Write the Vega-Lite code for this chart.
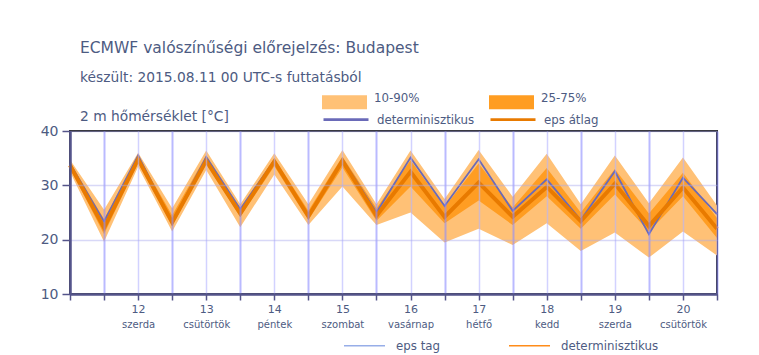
{
  "$schema": "https://vega.github.io/schema/vega-lite/v6.json",
  "width": 647,
  "height": 163,
  "autosize": "none",
  "padding": {"left": 70, "top": 131, "right": 42, "bottom": 61},
  "background": "white",
  "config": {
    "font": "DejaVu Sans",
    "view": {"stroke": "#2b2b2b", "strokeWidth": 2}
  },
  "title": {
    "text": "ECMWF valószínűségi előrejelzés: Budapest",
    "subtitle": ["készült: 2015.08.11 00 UTC-s futtatásból", "2 m hőmérséklet [°C]"],
    "anchor": "start",
    "frame": "group",
    "dx": 10,
    "fontSize": 15.5,
    "fontWeight": "normal",
    "color": "#4d5b82",
    "subtitleColor": "#4d5b82",
    "subtitleFontSize": 13.8,
    "subtitlePadding": 14,
    "subtitleLineHeight": 39,
    "offset": -44
  },
  "data": {
    "values": [
      {"t": 11.5, "p10": 32.5, "p25": 33.2, "mean": 33.7, "p75": 34.2, "p90": 34.7, "det": 34.0},
      {"t": 12.0, "p10": 19.6, "p25": 21.0, "mean": 22.2, "p75": 23.8, "p90": 25.5, "det": 23.3},
      {"t": 12.5, "p10": 33.4, "p25": 34.2, "mean": 34.8, "p75": 35.4, "p90": 36.0, "det": 35.5},
      {"t": 13.0, "p10": 21.5, "p25": 22.5, "mean": 23.2, "p75": 24.5, "p90": 25.8, "det": 23.2},
      {"t": 13.5, "p10": 32.8, "p25": 34.0, "mean": 34.5, "p75": 35.5, "p90": 36.4, "det": 35.2},
      {"t": 14.0, "p10": 22.3, "p25": 24.2, "mean": 24.8, "p75": 25.8, "p90": 26.5, "det": 25.6},
      {"t": 14.5, "p10": 32.0, "p25": 33.5, "mean": 34.4, "p75": 35.0, "p90": 35.9, "det": 34.6},
      {"t": 15.0, "p10": 22.7, "p25": 23.6, "mean": 24.3, "p75": 25.3, "p90": 26.5, "det": 24.2},
      {"t": 15.5, "p10": 29.8, "p25": 33.3, "mean": 34.5, "p75": 35.3, "p90": 36.5, "det": 34.8},
      {"t": 16.0, "p10": 22.7, "p25": 23.5, "mean": 24.4, "p75": 25.8, "p90": 26.5, "det": 25.0},
      {"t": 16.5, "p10": 25.0, "p25": 29.8, "mean": 32.5, "p75": 34.6, "p90": 36.4, "det": 35.1},
      {"t": 17.0, "p10": 19.5, "p25": 23.0, "mean": 24.2, "p75": 26.0, "p90": 27.5, "det": 26.2},
      {"t": 17.5, "p10": 22.0, "p25": 27.2, "mean": 30.5, "p75": 34.0, "p90": 36.5, "det": 34.8},
      {"t": 18.0, "p10": 19.0, "p25": 22.7, "mean": 24.2, "p75": 25.9, "p90": 27.9, "det": 25.3},
      {"t": 18.5, "p10": 23.0, "p25": 28.0, "mean": 29.7, "p75": 33.2, "p90": 35.8, "det": 31.1},
      {"t": 19.0, "p10": 17.9, "p25": 22.0, "mean": 23.4, "p75": 25.0, "p90": 26.5, "det": 23.6},
      {"t": 19.5, "p10": 21.3, "p25": 28.3, "mean": 30.3, "p75": 33.0, "p90": 35.5, "det": 32.6},
      {"t": 20.0, "p10": 16.7, "p25": 21.5, "mean": 22.5, "p75": 24.8, "p90": 26.7, "det": 21.0},
      {"t": 20.5, "p10": 21.5, "p25": 28.0, "mean": 29.6, "p75": 32.3, "p90": 35.1, "det": 31.4},
      {"t": 21.0, "p10": 17.1, "p25": 20.3, "mean": 22.0, "p75": 24.0, "p90": 26.3, "det": 24.7}
    ]
  },
  "layer": [
    {
      "mark": {"type": "area", "opacity": 1},
      "encoding": {
        "x": {
          "field": "t", "type": "quantitative",
          "scale": {"domain": [11.5, 21], "nice": false, "zero": false},
          "axis": {
            "orient": "bottom",
            "values": [11.5, 12, 12.5, 13, 13.5, 14, 14.5, 15, 15.5, 16, 16.5, 17, 17.5, 18, 18.5, 19, 19.5, 20, 20.5, 21],
            "labelExpr": "(datum.value % 1 == 0.5 && datum.value > 12) ? format(floor(datum.value), 'd') : ''",
            "labelFontSize": 11, "labelColor": "#4d5b82", "labelPadding": 3, "labelDx": -3.5,
            "labelOverlap": false, "labelFlush": false, "labelBound": false,
            "tickSize": 6, "tickColor": "#54548a", "tickWidth": 1.5,
            "domainColor": "#54548a", "domainWidth": 2.5,
            "grid": true,
            "gridColor": {"condition": {"test": "datum.value % 1 == 0", "value": "#8c8cff"}, "value": "#b4b4ff"},
            "gridWidth": {"condition": {"test": "datum.value % 1 == 0", "value": 2}, "value": 1.5},
            "gridOpacity": 0.6,
            "title": null, "zindex": 1
          }
        },
        "y": {
          "field": "p10", "type": "quantitative",
          "scale": {"domain": [10, 40], "nice": false, "zero": false},
          "axis": {
            "values": [10, 15, 20, 25, 30, 35, 40],
            "labelFontSize": 14, "labelColor": "#4d5b82", "labelPadding": 4,
            "tickSize": 8, "tickColor": "#54548a", "tickWidth": 1.5,
            "domainColor": "#54548a", "domainWidth": 2.5,
            "grid": true, "gridColor": "#a8a8ee", "gridOpacity": 0.45, "gridWidth": 1.5,
            "title": null, "zindex": 1
          }
        },
        "y2": {"field": "p90"},
        "fill": {
          "datum": "10-90%", "type": "nominal",
          "scale": {"domain": ["10-90%", "25-75%"], "range": ["#ffc176", "#ff9d22"]},
          "legend": {
            "orient": "none", "legendX": 252, "legendY": -51.5, "direction": "horizontal",
            "symbolType": "M-1,-0.31H1V0.31H-1Z", "symbolSize": 2025, "symbolStrokeWidth": 0,
            "labelFontSize": 11.8, "labelColor": "#4d5b82", "labelOffset": 7,
            "labelBaseline": "alphabetic", "columnPadding": 69, "title": null, "padding": 0
          }
        }
      }
    },
    {
      "mark": {"type": "area", "opacity": 1},
      "encoding": {
        "x": {"field": "t", "type": "quantitative", "axis": null},
        "y": {"field": "p25", "type": "quantitative", "title": null},
        "y2": {"field": "p75"},
        "fill": {"datum": "25-75%", "type": "nominal"}
      }
    },
    {
      "mark": {"type": "line", "strokeWidth": 1.8},
      "encoding": {
        "x": {
          "field": "t", "type": "quantitative",
          "axis": {
            "orient": "bottom",
            "values": [12.5, 13.5, 14.5, 15.5, 16.5, 17.5, 18.5, 19.5, 20.5],
            "labelExpr": "['szerda','csütörtök','péntek','szombat','vasárnap','hétfő','kedd','szerda','csütörtök'][floor(datum.value) - 12]",
            "labelFontSize": 10, "labelColor": "#4d5b82", "labelPadding": 25, "labelDx": -3.5,
            "labelOverlap": false, "labelFlush": false, "labelBound": false,
            "ticks": false, "tickSize": 0, "domain": false, "grid": false, "title": null
          }
        },
        "y": {"field": "det", "type": "quantitative", "title": null},
        "stroke": {
          "datum": "determinisztikus", "type": "nominal",
          "scale": {"domain": ["determinisztikus", "eps átlag"], "range": ["#6a6ab8", "#e87a00"]},
          "legend": {
            "orient": "none", "legendX": 252, "legendY": -35.5, "direction": "horizontal",
            "symbolType": "M-1,0H1", "symbolSize": 2025, "symbolStrokeWidth": 2.6,
            "labelFontSize": 11.8, "labelColor": "#4d5b82", "labelOffset": 7,
            "columnPadding": 10, "title": null, "padding": 0
          }
        }
      }
    },
    {
      "mark": {"type": "line", "strokeWidth": 4},
      "encoding": {
        "x": {"field": "t", "type": "quantitative", "axis": null},
        "y": {"field": "mean", "type": "quantitative", "title": null},
        "stroke": {"datum": "eps átlag", "type": "nominal"}
      }
    },
    {
      "data": {"values": [{"k": "eps tag"}, {"k": "determinisztikus"}]},
      "mark": {"type": "rule", "opacity": 0},
      "encoding": {
        "y": {"datum": 10},
        "color": {
          "field": "k", "type": "nominal",
          "scale": {"domain": ["eps tag", "determinisztikus"], "range": ["#97aee8", "#ff8c1a"]},
          "legend": {
            "orient": "none", "legendX": 273, "legendY": 193, "direction": "horizontal",
            "symbolType": "M-1,0H1", "symbolSize": 1681, "symbolStrokeWidth": 1.5, "symbolOpacity": 1,
            "labelFontSize": 11.8, "labelColor": "#4d5b82", "labelOffset": 10,
            "columnPadding": 66, "title": null, "padding": 0
          }
        }
      }
    }
  ],
  "resolve": {"axis": {"x": "independent"}}
}
